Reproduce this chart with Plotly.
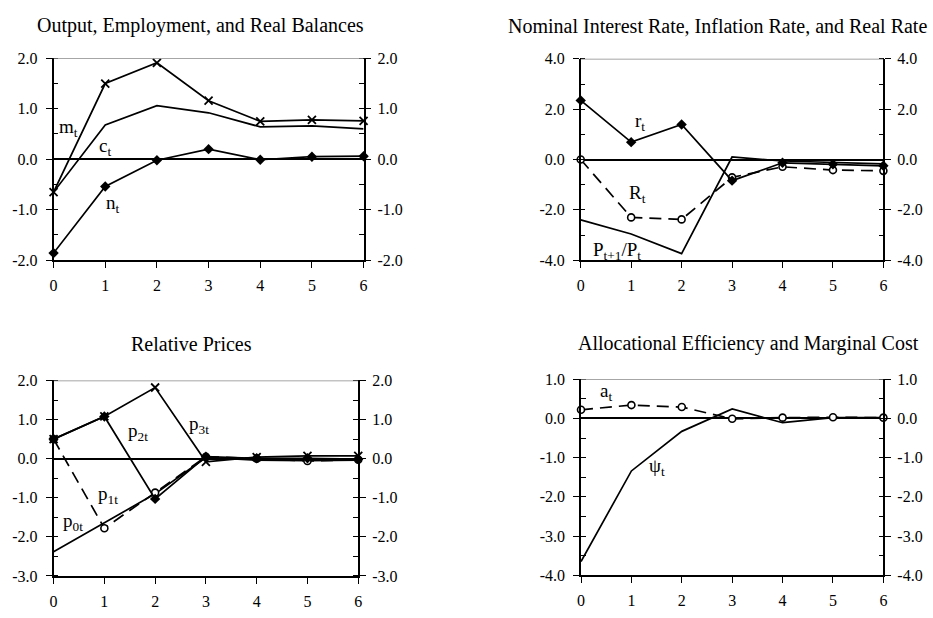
import plotly.graph_objects as go

W, H = 933, 618
t = [0, 1, 2, 3, 4, 5, 6]
x_ticktext = ["0", "1", "2", "3", "4", "5", "6"]

# Panel 1: Output, Employment, and Real Balances
m_t = [-0.65, 1.50, 1.91, 1.16, 0.75, 0.78, 0.76]
c_t = [-0.65, 0.68, 1.06, 0.92, 0.64, 0.66, 0.60]
n_t = [-1.86, -0.54, -0.02, 0.20, -0.01, 0.05, 0.06]
y1_vals = [-2, -1, 0, 1, 2]
y1_text = ["-2.0", "-1.0", "0.0", "1.0", "2.0"]

# Panel 2: Nominal Interest Rate, Inflation Rate, and Real Rate
r_t = [2.35, 0.69, 1.39, -0.84, -0.13, -0.19, -0.25]
R_t = [0.0, -2.30, -2.38, -0.71, -0.29, -0.42, -0.45]
infl_t = [-2.40, -2.96, -3.74, 0.10, -0.06, -0.13, -0.17]
y2_vals = [-4, -2, 0, 2, 4]
y2_text = ["-4.0", "-2.0", "0.0", "2.0", "4.0"]

# Panel 3: Relative Prices
p0_t = [-2.38, -1.64, -0.90, 0.03, -0.04, -0.05, -0.04]
p1_t = [0.50, -1.78, -0.87, 0.05, 0.00, -0.06, -0.03]
p2_t = [0.50, 1.08, -1.03, 0.05, 0.01, 0.01, -0.01]
p3_t = [0.50, 1.08, 1.82, -0.08, 0.04, 0.07, 0.07]
y3_vals = [-3, -2, -1, 0, 1, 2]
y3_text = ["-3.0", "-2.0", "-1.0", "0.0", "1.0", "2.0"]

# Panel 4: Allocational Efficiency and Marginal Cost
a_t = [0.22, 0.34, 0.29, -0.01, 0.02, 0.03, 0.02]
psi_t = [-3.65, -1.34, -0.33, 0.24, -0.11, 0.02, 0.02]
y4_vals = [-4, -3, -2, -1, 0, 1]
y4_text = ["-4.0", "-3.0", "-2.0", "-1.0", "0.0", "1.0"]

FONT = "Liberation Serif, Times New Roman, serif"
BLACK = "black"

fig = go.Figure()

def line(x, y, xa, ya, dash="solid", marker=None):
    kw = dict(x=x, y=y, xaxis=xa, yaxis=ya, showlegend=False, cliponaxis=False,
              line=dict(color=BLACK, width=1.7, dash=dash), hoverinfo="skip")
    if marker == "x":
        kw.update(mode="lines+markers", marker=dict(symbol="x-thin", size=8, line=dict(color=BLACK, width=1.8)))
    elif marker == "diamond":
        kw.update(mode="lines+markers", marker=dict(symbol="diamond", size=8, color=BLACK))
    elif marker == "circle":
        kw.update(mode="lines+markers", marker=dict(symbol="circle", size=7, color="white", line=dict(color=BLACK, width=1.6)))
    else:
        kw.update(mode="lines")
    fig.add_trace(go.Scatter(**kw))

DASH = "12px,7px"
# Panel 1
line(t, c_t, "x", "y")
line(t, m_t, "x", "y", marker="x")
line(t, n_t, "x", "y", marker="diamond")
# Panel 2
line(t, infl_t, "x2", "y2")
line(t, R_t, "x2", "y2", dash=DASH, marker="circle")
line(t, r_t, "x2", "y2", marker="diamond")
# Panel 3
line(t, p0_t, "x3", "y3")
line(t, p1_t, "x3", "y3", dash=DASH, marker="circle")
line(t, p2_t, "x3", "y3", marker="diamond")
line(t, p3_t, "x3", "y3", marker="x")
# Panel 4
line(t, psi_t, "x4", "y4")
line(t, a_t, "x4", "y4", dash=DASH, marker="circle")

# invisible traces so the right-hand axes are drawn
for i in range(1, 5):
    fig.add_trace(go.Scatter(x=[0], y=[0], xaxis="x" if i == 1 else f"x{i}", yaxis=f"y{i+4}",
                             mode="markers", marker=dict(opacity=0), showlegend=False, hoverinfo="skip"))

# panel pixel boxes: (left, right, top, bottom)
boxes = {
    1: (50.0, 362.7, 51.7, 259.3),
    2: (581.7, 887.0, 52.3, 259.3),
    3: (50.0, 357.3, 383.0, 584.0),
    4: (582.0, 887.0, 381.7, 583.3),
}
yinfo = {
    1: (y1_vals, y1_text, [-2, 2], 0.5),
    2: (y2_vals, y2_text, [-4, 4], 1.0),
    3: (y3_vals, y3_text, [-3, 2], 0.5),
    4: (y4_vals, y4_text, [-4, 1], 0.5),
}

tickfont = dict(family=FONT, size=16, color=BLACK)
layout = dict(width=W, height=H, margin=dict(l=0, r=0, t=0, b=0),
              paper_bgcolor="white", plot_bgcolor="white", showlegend=False)
shapes = []
for i, (l, r, tp, bt) in boxes.items():
    xd = [l / W, r / W]
    yd = [1 - bt / H, 1 - tp / H]
    sx = "" if i == 1 else str(i)
    vals, text, rng, mstep = yinfo[i]
    minor_vals = []
    v = rng[0]
    while v <= rng[1] + 1e-9:
        minor_vals.append(round(v, 3))
        v += mstep
    layout[f"xaxis{sx}"] = dict(domain=xd, range=[0, 6], anchor=f"y{sx}", showgrid=False, zeroline=False,
                                showline=True, linecolor=BLACK, linewidth=1.5, ticks="outside", ticklen=6,
                                tickcolor=BLACK, tickwidth=1.2, tickmode="array", tickvals=t, ticktext=x_ticktext,
                                tickfont=tickfont, ticklabelstandoff=4, fixedrange=True)
    common = dict(range=rng, showgrid=False, showline=True, linecolor=BLACK, linewidth=1.5,
                  ticks="outside", ticklen=6, tickcolor=BLACK, tickwidth=1.2, tickmode="array",
                  tickvals=vals, ticktext=text, tickfont=tickfont, fixedrange=True,
                  minor=dict(ticks="inside", ticklen=5, tickcolor=BLACK, tickwidth=1.2,
                             tickmode="array", tickvals=minor_vals, showgrid=False))
    layout[f"yaxis{sx}"] = dict(domain=yd, anchor=f"x{sx}", side="left", zeroline=True,
                                zerolinecolor=BLACK, zerolinewidth=1.5, ticklabelstandoff=5, **common)
    layout[f"yaxis{i+4}"] = dict(overlaying=f"y{sx}", anchor=f"x{sx}", side="right", zeroline=False,
                                 ticklabelstandoff=3, **common)
    shapes.append(dict(type="line", xref=f"x{sx}", yref=f"y{sx}", x0=0, x1=6, y0=rng[1], y1=rng[1],
                       line=dict(color="#888888", width=1.5)))

layout["shapes"] = shapes

titles = [
    ("Output, Employment, and Real Balances", 198, 18),
    ("Nominal Interest Rate, Inflation Rate, and Real Rate", 720, 18),
    ("Relative Prices", 189, 346),
    ("Allocational Efficiency and Marginal Cost", 751, 345),
]
ann = []
for txt, px, py in titles:
    ann.append(dict(text=txt, x=px / W, y=1 - py / H, xref="paper", yref="paper", showarrow=False,
                    xanchor="center", yanchor="middle", font=dict(family=FONT, size=20, color=BLACK)))

labels = [
    ("m<sub>t</sub>", "x", "y", 0.29, 0.62),
    ("c<sub>t</sub>", "x", "y", 0.99, 0.25),
    ("n<sub>t</sub>", "x", "y", 1.15, -0.89),
    ("r<sub>t</sub>", "x2", "y2", 1.17, 1.49),
    ("R<sub>t</sub>", "x2", "y2", 1.13, -1.36),
    ("P<sub>t+1</sub>/P<sub>t</sub>", "x2", "y2", 0.72, -3.64),
    ("p<sub>0t</sub>", "x3", "y3", 0.39, -1.62),
    ("p<sub>1t</sub>", "x3", "y3", 1.07, -0.92),
    ("p<sub>2t</sub>", "x3", "y3", 1.66, 0.69),
    ("p<sub>3t</sub>", "x3", "y3", 2.86, 0.86),
    ("a<sub>t</sub>", "x4", "y4", 0.50, 0.67),
    ("\u03c8<sub>t</sub>", "x4", "y4", 1.51, -1.23),
]
for txt, xa, ya, xv, yv in labels:
    ann.append(dict(text=txt, x=xv, y=yv, xref=xa, yref=ya, showarrow=False,
                    xanchor="center", yanchor="middle", font=dict(family=FONT, size=19, color=BLACK)))
layout["annotations"] = ann

fig.update_layout(**layout)
fig.write_html("out.html", post_script="document.body.style.margin='0';")
